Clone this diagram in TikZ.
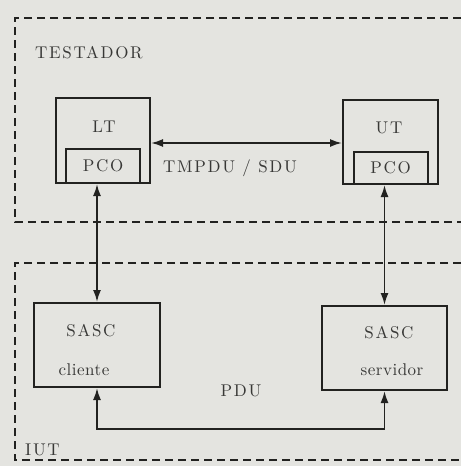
\documentclass[tikz,border=0pt]{standalone}
\usepackage{fontspec}
\usepackage{tikz}
\usetikzlibrary{arrows.meta, positioning, calc}

\definecolor{paper}{RGB}{228,228,224}
\definecolor{ink}{RGB}{34,34,32}
\newfontfamily\spaced{lmroman10-regular.otf}[LetterSpace=10]
\newfontfamily\tight{lmroman10-regular.otf}[LetterSpace=3]
\newcommand{\spfont}{\spaced\fontsize{17}{20}\selectfont}
\newcommand{\lcfont}{\tight\fontsize{17}{20}\selectfont}

\begin{document}
\begin{tikzpicture}[x=1pt, y=-1pt,
    tbox/.style={draw=ink, line width=2pt, inner sep=0pt, minimum width=94pt, minimum height=85pt, anchor=north west},
    sbox/.style={draw=ink, line width=2pt, inner sep=0pt, minimum width=126pt, minimum height=84pt, anchor=north west},
    pco/.style={draw=ink, line width=2pt, inner sep=0pt, minimum width=74pt, minimum height=34pt, anchor=south, font=\spfont, text=ink!90},
    lbl/.style={font=\spfont, text=ink!90, inner sep=0pt},
    lclbl/.style={lbl, font=\lcfont},
    arr/.style={{Latex[length=12pt,width=8pt]}-{Latex[length=12pt,width=8pt]}, draw=ink, line width=1.8pt},
    frame/.style={draw=ink, line width=2pt, dash pattern=on 8pt off 5pt}]
  \fill[paper] (0,0) rectangle (461,466);
  \useasboundingbox (0,0) rectangle (461,466);

  % testador
  \draw[frame] (461,18) -| (15,222) -- (461,222);
  \node[lbl, anchor=west] (testador) at (35,53) {TESTADOR};
  \node[tbox] (lt) at (55,97) {};
  \node[tbox, minimum width=95pt, minimum height=84pt] (ut) at (342,99) {};
  \node[pco] (pcol) at (lt.south) {PCO\hspace{8pt}};
  \node[pco, minimum height=32pt] (pcor) at (ut.south) {PCO\hspace{10pt}};
  \node[lbl] (ltname) at (104,127) {LT};
  \node[lbl] (utname) at (389,128) {UT};
  \node[lbl] (tmpdu) at (230,168) {TMPDU / SDU};
  \draw[arr] ([yshift=-2.5pt]lt.east) -- ([yshift=-2.5pt]lt.east -| ut.west);

  % iut
  \draw[frame] (461,263) -| (15,460) -- (461,460);
  \node[lbl, anchor=west] (iut) at (25,450) {IUT};
  \node[sbox] (cli) at (33,302) {};
  \node[sbox, minimum width=125pt] (srv) at (321,305) {};
  \node[lbl] (sascl) at (91,331) {SASC};
  \node[lclbl] (clilbl) at (84,370) {cliente};
  \node[lbl] (sascr) at (389,333) {SASC};
  \node[lclbl] (srvlbl) at (392,370) {servidor};
  \node[lbl] (pdu) at (241,391) {PDU};
  \coordinate (bus) at (240,429);

  \draw[arr] (cli.north) -- (cli.north |- pcol.south);
  \draw[arr] (srv.north) -- (srv.north |- pcor.south);
  \draw[arr] (cli.south) |- (bus) -| (srv.south);
\end{tikzpicture}
\end{document}
